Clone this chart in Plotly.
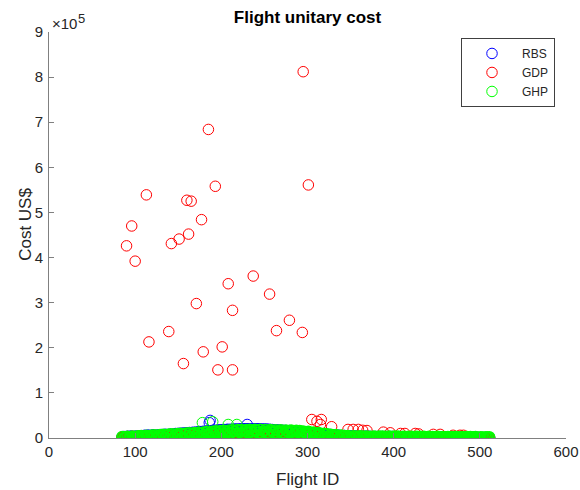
import plotly.graph_objects as go

# Flights sampled along the schedule (every second flight ID)
flight_id = list(range(85, 512, 2))

# Unitary cost per flight, US$
rbs_cost = [
    1200, 2400, 600, 3000, 1700, 3600, 900, 2800, 3900, 1500,
    3400, 4400, 2000, 5200, 3000, 5800, 1700, 4600, 6200, 3800,
    5000, 6600, 2800, 7200, 4400, 7800, 6000, 3600, 8200, 5400,
    6800, 9000, 7400, 9800, 8400, 10400, 9200, 11000, 10000, 11600,
    10800, 12200, 11400, 12800, 12000, 13500, 12600, 14200, 13200, 14800,
    14000, 15400, 14800, 16200, 15400, 16800, 16200, 17400, 16800, 18000,
    17400, 18400, 17800, 18800, 18200, 19200, 18600, 19400, 18800, 19600,
    19000, 19700, 19200, 19800, 19300, 19800, 19400, 19700, 19200, 19600,
    19000, 19300, 18800, 19000, 18400, 18600, 18000, 18200, 17400, 17600,
    16400, 16800, 16000, 16400, 15600, 16000, 15200, 15600, 14800, 15200,
    14400, 14800, 13600, 14000, 12800, 13200, 12000, 12400, 11200, 11600,
    10400, 10800, 9600, 9800, 8800, 9000, 8000, 8200, 7200, 7400,
    6600, 6800, 6000, 6200, 5400, 5600, 4800, 5000, 4400, 4500,
    4000, 4100, 3700, 3800, 3500, 3500, 3300, 3300, 3100, 3100,
    3000, 3000, 2900, 2900, 2800, 2800, 2700, 2700, 2600, 2600,
    2500, 2500, 2500, 2400, 2400, 2400, 2300, 2300, 2300, 2200,
    2200, 2200, 2100, 2100, 2100, 2000, 2000, 2000, 1900, 1900,
    1900, 1800, 1800, 1800, 1700, 1700, 1700, 1600, 1600, 1600,
    1500, 1500, 1500, 1400, 1400, 1400, 1300, 1300, 1300, 1200,
    1200, 1200, 1100, 1100, 1100, 1000, 1000, 1000, 900, 900,
    900, 800, 800, 800, 700, 700, 700, 600, 600, 600,
    500, 500, 500, 400,
]

gdp_cost = [
    400, 1800, 0, 2600, 900, 200, 3000, 1400, 600, 2200,
    3400, 800, 2400, 0, 4000, 1600, 3000, 500, 4400, 2000,
    1000, 3600, 5000, 200, 2800, 4600, 1200, 5400, 3200, 600,
    4200, 2200, 5800, 1400, 3600, 6000, 2600, 4800, 3800, 5200,
    3000, 4400, 3600, 5000, 4000, 4600, 4200, 5000, 4400, 4800,
    4600, 5000, 4700, 5200, 4800, 5200, 4900, 5300, 5000, 5300,
    5100, 5400, 5200, 5400, 5200, 5500, 5300, 5500, 5300, 5500,
    5400, 5500, 5400, 5600, 5400, 5600, 5500, 5600, 5500, 5500,
    5500, 5600, 5500, 5500, 5400, 5500, 5400, 5400, 5300, 5400,
    5300, 5300, 5200, 5200, 5100, 5100, 5000, 5000, 4900, 4900,
    4800, 4800, 4700, 4600, 4500, 4400, 4300, 4200, 4000, 3800,
    3600, 3300, 3000, 2700, 2400, 2100, 1800, 1500, 1300, 1100,
    900, 800, 700, 600, 500, 450, 400, 350, 300, 300,
    250, 250, 200, 200, 200, 200, 150, 150, 150, 150,
    100, 100, 100, 100, 100, 100, 100, 100, 100, 100,
    100, 0, 100, 100, 0, 100, 100, 0, 100, 0,
    100, 0, 100, 0, 0, 100, 0, 100, 0, 0,
    100, 0, 0, 100, 0, 0, 0, 100, 0, 0,
    0, 100, 0, 0, 0, 0, 100, 0, 0, 0,
    0, 0, 100, 0, 0, 0, 0, 0, 0, 0,
    0, 0, 0, 0, 0, 0, 0, 0, 0, 0,
    0, 0, 0, 0,
]

ghp_cost = [
    2800, 400, 1900, 3300, 800, 2500, 3600, 100, 1500, 4200,
    900, 4800, 2600, 300, 5400, 3400, 1200, 6000, 2000, 6400,
    500, 4400, 6900, 2700, 7500, 1300, 5600, 8000, 3500, 8400,
    1800, 6300, 9000, 4200, 9700, 700, 7600, 10300, 5000, 10900,
    3200, 8600, 11400, 6000, 12100, 4800, 9800, 12800, 7400, 13600,
    8200, 11200, 14400, 9600, 15200, 12600, 8800, 15900, 11000, 16600,
    10200, 13400, 17200, 11600, 17600, 14800, 10400, 17900, 12800, 18000,
    10600, 15600, 18200, 12400, 18400, 14400, 10800, 18500, 16400, 12000,
    18400, 11200, 15000, 18200, 13200, 10600, 17800, 15800, 12000, 17600,
    11400, 14600, 17400, 12800, 10400, 17200, 15200, 11800, 16900, 13600,
    10200, 16400, 13000, 15600, 9800, 14800, 12000, 9200, 14000, 11200,
    7400, 12600, 10200, 6200, 11400, 8800, 5000, 10000, 7200, 8600,
    2600, 7800, 5400, 1800, 6800, 4200, 1200, 5800, 3400, 5000,
    800, 4600, 2600, 400, 4400, 2200, 3800, 600, 4200, 2000,
    3600, 300, 3900, 1800, 3200, 500, 3800, 2400, 900, 3700,
    1600, 3600, 400, 3000, 2200, 3500, 800, 2800, 3400, 1200,
    3400, 2000, 500, 3300, 2600, 900, 3200, 1700, 3300, 400,
    2400, 3200, 1100, 2900, 600, 3100, 2000, 300, 3000, 1500,
    2800, 800, 2600, 2900, 1300, 400, 2700, 2100, 900, 2800,
    1800, 2600, 500, 2300, 2700, 1200, 300, 2500, 1900, 800,
    2400, 1500, 2600, 400, 2000, 2300, 1000, 200, 2200, 1700,
    600, 2100, 1300, 1900,
]

# Flights with exceptional costs
rbs_peak_id = [186, 187, 230]
rbs_peak_cost = [34000, 39000, 30000]

gdp_peak_id = [
    295, 185, 193, 301, 113, 160, 165, 177, 96, 162,
    151, 142, 90, 100, 237, 208, 256, 171, 213, 279,
    139, 264, 294, 116, 201, 179, 156, 196, 213,
    305, 311, 316, 315, 328, 347, 353, 359, 364, 369,
    388, 396, 408, 413, 425, 429, 446, 454, 469, 477, 481,
]
gdp_peak_cost = [
    812000, 684000, 558000, 561000, 539000, 527000, 525000, 484000, 470000, 452000,
    441000, 431000, 426000, 392000, 359000, 342000, 319000, 298000, 283000, 261000,
    236000, 238000, 234000, 213000, 202000, 191000, 165000, 151000, 151000,
    41000, 37000, 41000, 30000, 25000, 19000, 19000, 19000, 17000, 16500,
    13000, 11500, 10000, 10000, 10000, 9000, 8000, 8000, 6000, 6000, 6000,
]

ghp_peak_id = [178, 190, 208, 218, 230, 185]
ghp_peak_cost = [34000, 36000, 30000, 30000, 0, 0]

series = [
    ("RBS", "rgb(0,0,255)", rbs_cost, rbs_peak_id, rbs_peak_cost),
    ("GDP", "rgb(255,0,0)", gdp_cost, gdp_peak_id, gdp_peak_cost),
    ("GHP", "rgb(0,255,0)", ghp_cost, ghp_peak_id, ghp_peak_cost),
]

y_ticks = [0, 100000, 200000, 300000, 400000, 500000, 600000, 700000, 800000, 900000]
y_tick_text = ["0", "1", "2", "3", "4", "5", "6", "7", "8", "9"]
x_ticks = [0, 100, 200, 300, 400, 500, 600]

FONT = "Liberation Sans, Arial, Helvetica, sans-serif"
AXIS = "rgb(128,128,128)"
TEXT = "rgb(38,38,38)"

fig = go.Figure()
for name, color, cost, peak_id, peak_cost in series:
    # crowded band: rings drawn a little heavier so the band reads solid
    fig.add_trace(go.Scatter(
        x=flight_id, y=cost, mode="markers", name=name, legendgroup=name,
        showlegend=False,
        marker=dict(symbol="circle-open", size=10.5, color=color,
                    line=dict(width=1.7, color=color)),
    ))
    # isolated flights: thin rings, also used for the legend symbol
    fig.add_trace(go.Scatter(
        x=peak_id, y=peak_cost, mode="markers", name=name, legendgroup=name,
        marker=dict(symbol="circle-open", size=10.5, color=color,
                    line=dict(width=1, color=color)),
    ))

axis_common = dict(
    showgrid=False, zeroline=False, showline=True, linecolor=AXIS, linewidth=1,
    ticks="inside", ticklen=5, tickcolor=AXIS, tickwidth=1, automargin=False,
    tickfont=dict(family=FONT, size=15, color=TEXT), mirror=False,
)

fig.update_layout(
    width=580, height=490,
    margin=dict(l=49, r=14, t=32, b=52),
    paper_bgcolor="white", plot_bgcolor="white",
    font=dict(family=FONT, color=TEXT),
    title=dict(text="<b>Flight unitary cost</b>", x=0.5, xref="paper",
               y=1 - 17 / 490, yanchor="middle",
               font=dict(family=FONT, size=17, color="black")),
    xaxis=dict(range=[0, 600], tickvals=x_ticks, **axis_common),
    yaxis=dict(range=[0, 900000], tickvals=y_ticks, ticktext=y_tick_text,
               ticklabelstandoff=2, **axis_common),
    showlegend=True,
    legend=dict(
        x=(555 - 49) / 517, y=(438.5 - 72.5) / 406.5, xanchor="right", yanchor="middle",
        bgcolor="white", bordercolor="rgb(64,64,64)", borderwidth=1,
        itemwidth=50, tracegroupgap=0,
        font=dict(family=FONT, size=12, color=TEXT),
    ),
    annotations=[
        dict(text="Flight ID", xref="paper", yref="paper", x=0.5, y=-42 / 406.5,
             xanchor="center", yanchor="middle", showarrow=False,
             font=dict(family=FONT, size=17, color=TEXT)),
        dict(text="Cost US$", xref="paper", yref="paper", x=-23 / 517, y=0.525,
             xanchor="center", yanchor="middle", showarrow=False, textangle=-90,
             font=dict(family=FONT, size=17, color=TEXT)),
        # axis exponent label: "×10" with a raised "5"
        dict(text="\u00d710", xref="paper", yref="paper", x=1 / 517, y=1.0,
             xanchor="left", yanchor="middle", yshift=9, showarrow=False,
             font=dict(family=FONT, size=15, color=TEXT)),
        dict(text="5", xref="paper", yref="paper", x=27 / 517, y=1.0,
             xanchor="left", yanchor="middle", yshift=14, showarrow=False,
             font=dict(family=FONT, size=13, color=TEXT)),
    ],
)

fig.write_html("out.html")
